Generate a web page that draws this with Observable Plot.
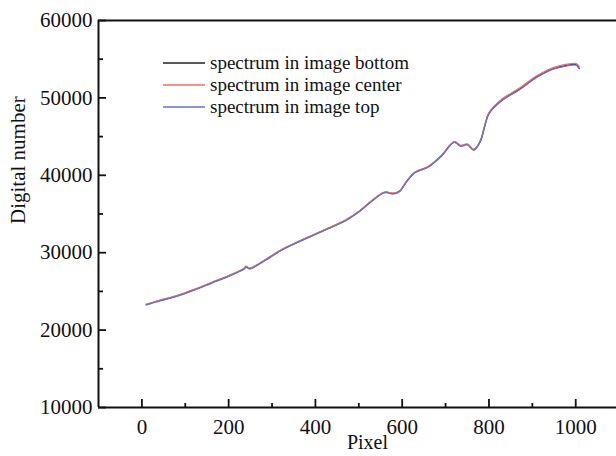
<!DOCTYPE html>
<html>
<head>
<meta charset="utf-8">
<script src="https://cdn.jsdelivr.net/npm/d3@7"></script>
<script src="https://cdn.jsdelivr.net/npm/@observablehq/plot@0.6"></script>
<style>
  html, body { margin: 0; padding: 0; background: #fff; overflow: hidden; }
  #chart svg { display: block; }
</style>
</head>
<body>
<div id="chart"></div>
<script>
// ---- data ----
const pixel  = [10, 40, 80, 120, 160, 200, 235, 240, 248, 280, 320, 360, 400, 440, 470, 500, 530, 560, 580, 595, 610, 630, 660, 690, 720, 735, 750, 765, 780, 790, 800, 830, 870, 910, 950, 980, 1000, 1008];
const specBottom = [23300, 23800, 24400, 25200, 26100, 27000, 27900, 28200, 27950, 28900, 30300, 31400, 32400, 33400, 34200, 35300, 36700, 37800, 37650, 38000, 39200, 40400, 41100, 42500, 44300, 43800, 44000, 43300, 44400, 46300, 48000, 49700, 51100, 52700, 53800, 54200, 54300, 53800];
const specCenter = [23350, 23850, 24450, 25250, 26150, 27050, 27950, 28250, 28000, 28950, 30350, 31450, 32450, 33450, 34250, 35350, 36750, 37850, 37700, 38050, 39250, 40450, 41150, 42550, 44350, 43850, 44050, 43350, 44450, 46400, 48100, 49850, 51250, 52850, 53950, 54350, 54450, 54100];
const specTop    = [23250, 23750, 24350, 25150, 26050, 26950, 27850, 28150, 27900, 28850, 30250, 31350, 32350, 33350, 34150, 35250, 36650, 37750, 37600, 37950, 39150, 40350, 41050, 42450, 44250, 43750, 43950, 43250, 44350, 46250, 47950, 49650, 51050, 52650, 53750, 54150, 54250, 53850];
const seriesNames = ["spectrum in image bottom", "spectrum in image center", "spectrum in image top"];
const seriesValues = [specBottom, specCenter, specTop];
const colors = ["#222222", "#f0705f", "#6373cc"];
const xMajor = [0, 200, 400, 600, 800, 1000];
const xMinor = [100, 300, 500, 700, 900];
const yMajor = [10000, 20000, 30000, 40000, 50000, 60000];
const yMinor = [15000, 25000, 35000, 45000, 55000];

// long table built from the arrays
const rows = seriesNames.flatMap((name, s) =>
  pixel.map((p, i) => ({pixel: p, value: seriesValues[s][i], series: name})));

const W = 616, H = 456;
const mL = 98, mT = 20, mB = 49, mR = 0;
const frameW = W - mL - mR, frameH = H - mT - mB;
const font = "'Liberation Serif', 'DejaVu Serif', serif";

// legend drawn as a render-function mark
const legendMark = (index, scales, values, dim) => {
  const g = d3.create("svg:g");
  seriesNames.forEach((name, i) => {
    const y = dim.marginTop + 43 + i * 22;
    g.append("line")
      .attr("x1", dim.marginLeft + 65).attr("x2", dim.marginLeft + 107)
      .attr("y1", y).attr("y2", y)
      .attr("stroke", colors[i]).attr("stroke-width", 1.3);
    g.append("text")
      .attr("x", dim.marginLeft + 112).attr("y", y)
      .attr("dy", "0.32em")
      .attr("text-anchor", "start")
      .attr("font-family", font).attr("font-size", 19)
      .attr("fill", "#111")
      .text(name);
  });
  return g.node();
};

const chart = Plot.plot({
  width: W, height: H,
  marginLeft: mL, marginTop: mT, marginBottom: mB, marginRight: mR,
  style: {fontFamily: font, background: "#fff", color: "#111"},
  x: {domain: [-100, 1094]},
  y: {domain: [10000, 60000]},
  color: {domain: seriesNames, range: colors},
  marks: [
    Plot.axisX(xMajor, {tickSize: 0, tickPadding: 12, fontSize: 21, label: null, tickFormat: d3.format("d")}),
    Plot.axisY(yMajor, {tickSize: 0, tickPadding: 6, fontSize: 21, label: null, tickFormat: d3.format("d")}),
    // inward ticks
    Plot.tickX(xMajor, {x: d => d, insetTop: frameH - 8, stroke: "#111", strokeWidth: 1.8}),
    Plot.tickX(xMinor, {x: d => d, insetTop: frameH - 4, stroke: "#111", strokeWidth: 1.8}),
    Plot.tickY(yMajor, {y: d => d, insetRight: frameW - 8, stroke: "#111", strokeWidth: 1.8}),
    Plot.tickY(yMinor, {y: d => d, insetRight: frameW - 5, stroke: "#111", strokeWidth: 1.8}),
    // frame lines (left, bottom, top)
    Plot.ruleX([-100], {stroke: "#111", strokeWidth: 2}),
    Plot.ruleY([10000, 60000], {stroke: "#111", strokeWidth: 2}),
    // curves
    Plot.line(rows, {x: "pixel", y: "value", z: "series", stroke: "series", strokeWidth: 1.3, curve: "catmull-rom"}),
    // axis titles
    Plot.text(["Pixel"], {frameAnchor: "bottom", dx: 10, dy: 41, text: d => d, fontSize: 20, fill: "#111"}),
    Plot.text(["Digital number"], {frameAnchor: "left", dx: -80, dy: 10, rotate: -90, text: d => d, fontSize: 21, fill: "#111"}),
    legendMark
  ]
});
document.getElementById("chart").appendChild(chart);
</script>
</body>
</html>
